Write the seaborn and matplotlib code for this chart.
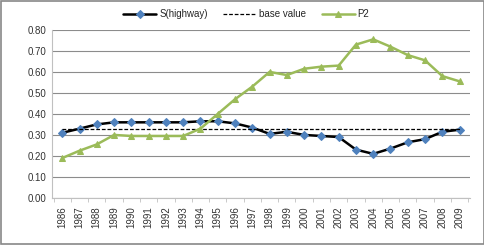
import numpy as np
import pandas as pd
import matplotlib
matplotlib.use("Agg")
import matplotlib.pyplot as plt
import seaborn as sns

# ---------- Data ----------
years = [str(y) for y in range(1986, 2010)]
s_highway = [0.31, 0.33, 0.35, 0.36, 0.36, 0.36, 0.36, 0.36, 0.365, 0.365, 0.355, 0.335,
             0.305, 0.315, 0.30, 0.295, 0.29, 0.23, 0.21, 0.235, 0.265, 0.28, 0.315, 0.325]
p2 = [0.19, 0.225, 0.255, 0.30, 0.295, 0.295, 0.295, 0.295, 0.33, 0.40, 0.47, 0.53,
      0.60, 0.585, 0.615, 0.625, 0.63, 0.73, 0.755, 0.72, 0.68, 0.655, 0.58, 0.555]
base_value = [0.33] * len(years)

df = pd.DataFrame({"pos": np.arange(len(years)), "year": years,
                   "S(highway)": s_highway, "base value": base_value, "P2": p2})

sns.set_style("white")
plt.rcParams["font.family"] = ["Liberation Sans", "DejaVu Sans"]

fig = plt.figure(figsize=(4.85, 2.45), dpi=100)
ax = fig.add_axes([0.107, 0.192, 0.862, 0.686])

sns.lineplot(data=df, x="pos", y="S(highway)", ax=ax, color="black", lw=1.8,
             marker="D", markersize=4, markerfacecolor="#4F81BD", markeredgecolor="#4F81BD",
             label="S(highway)")
sns.lineplot(data=df, x="pos", y="base value", ax=ax, color="black", lw=0.9,
             linestyle=(0, (3, 1.5)), label="base value")
sns.lineplot(data=df, x="pos", y="P2", ax=ax, color="#9BBB59", lw=1.8,
             marker="^", markersize=5, markerfacecolor="#9BBB59", markeredgecolor="#9BBB59",
             label="P2")

ax.set_xlim(-0.6, len(years) - 0.4)
ax.set_ylim(0, 0.8)
ax.set_yticks(np.arange(0, 0.81, 0.1))
ax.set_yticklabels([f"{v:.2f}" for v in np.arange(0, 0.81, 0.1)], fontsize=7, color="#333333")
ax.set_xticks(df["pos"])
ax.set_xticklabels(years, rotation=90, fontsize=7, color="#333333")
ax.set_xticks(np.arange(-0.5, len(years), 1.0), minor=True)
ax.tick_params(axis="x", which="major", length=0, pad=6)
ax.tick_params(axis="x", which="minor", length=3, color="#c0c0c0", direction="out", bottom=True)
ax.tick_params(axis="y", length=0, pad=4)
ax.set_xlabel("")
ax.set_ylabel("")
ax.grid(axis="y", color="#8c8c8c", lw=0.8)
ax.set_axisbelow(True)
for side in ["top", "right"]:
    ax.spines[side].set_visible(False)
ax.spines["left"].set_color("#c0c0c0")
ax.spines["bottom"].set_color("#c0c0c0")

ax.legend(loc="upper center", bbox_to_anchor=(0.465, 1.175), ncol=3, frameon=False,
          fontsize=7, handlelength=3.4, columnspacing=1.6, handletextpad=0.3)

fig.patches.append(plt.Rectangle((0.003, 0.004), 0.994, 0.992, transform=fig.transFigure,
                                 fill=False, edgecolor="#888888", lw=1.2))

plt.savefig("out.png", dpi=100)
